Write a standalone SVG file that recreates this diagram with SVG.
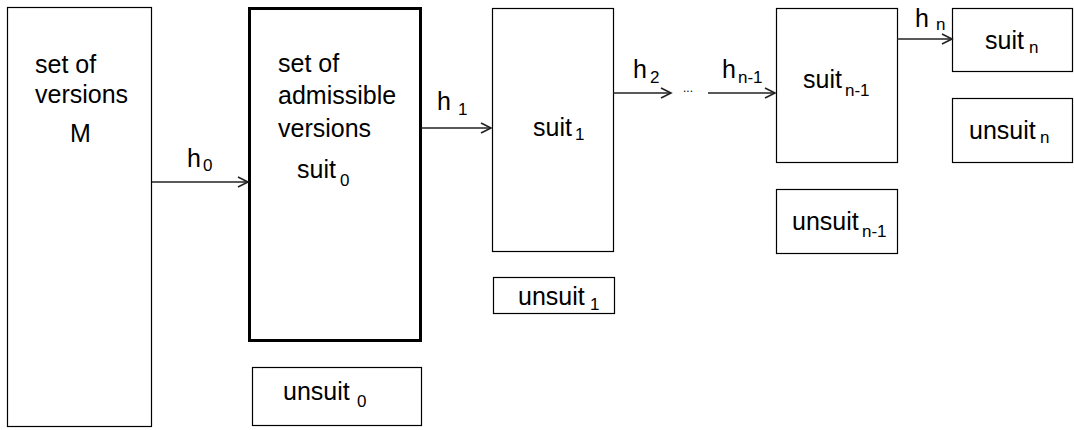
<svg xmlns="http://www.w3.org/2000/svg" width="1074" height="430" viewBox="0 0 1074 430">
<style>
.box{fill:#fff;stroke:#000;stroke-width:1.2}
.thick{fill:#fff;stroke:#000;stroke-width:3}
.t{font-family:"Liberation Sans",Arial,sans-serif;font-size:25px;fill:#000}
.s{font-family:"Liberation Sans",Arial,sans-serif;font-size:17px;fill:#000}
.c{fill:none;stroke:#222;stroke-width:1.3}
</style>
<defs>
<marker id="arr" markerUnits="userSpaceOnUse" markerWidth="14" markerHeight="14" refX="11" refY="6" orient="auto">
<path d="M1,1 L11,6 L1,11" fill="none" stroke="#222" stroke-width="1.6"/>
</marker>
</defs>
<rect width="1074" height="430" fill="#fff"/>
<g id="nodeM">
<rect class="box" x="7.5" y="7.5" width="144" height="419"/>
<text class="t" x="35" y="73">set of</text>
<text class="t" x="35" y="103">versions</text>
<text class="t" x="70" y="142">M</text>
</g>
<g id="suit0">
<rect class="thick" x="249.5" y="8.5" width="171" height="332"/>
<text class="t" x="278" y="72">set of</text>
<text class="t" x="278" y="104">admissible</text>
<text class="t" x="278" y="137">versions</text>
<text class="t" x="297" y="178">suit</text>
<text class="s" x="340" y="186">0</text>
</g>
<g id="unsuit0">
<rect class="box" x="252.5" y="367.5" width="169" height="58"/>
<text class="t" x="283" y="400">unsuit</text>
<text class="s" x="357" y="407">0</text>
</g>
<g id="suit1">
<rect class="box" x="492.5" y="8.5" width="121" height="243"/>
<text class="t" x="533" y="136">suit</text>
<text class="s" x="575" y="140">1</text>
</g>
<g id="unsuit1">
<rect class="box" x="493.5" y="277.5" width="121" height="36"/>
<text class="t" x="518" y="305">unsuit</text>
<text class="s" x="590" y="310">1</text>
</g>
<g id="suitn1">
<rect class="box" x="776.5" y="8.5" width="121" height="154"/>
<text class="t" x="803" y="88">suit</text>
<text class="s" x="845" y="96">n-1</text>
</g>
<g id="unsuitn1">
<rect class="box" x="776.5" y="189.5" width="121" height="64"/>
<text class="t" x="792" y="230">unsuit</text>
<text class="s" x="862" y="237">n-1</text>
</g>
<g id="suitn">
<rect class="box" x="952.5" y="8.5" width="120" height="63"/>
<text class="t" x="985" y="49">suit</text>
<text class="s" x="1029" y="53">n</text>
</g>
<g id="unsuitn">
<rect class="box" x="952.5" y="98.5" width="120" height="64"/>
<text class="t" x="969" y="139">unsuit</text>
<text class="s" x="1040" y="143">n</text>
</g>
<g id="connectors">
<line class="c" x1="152" y1="182" x2="248" y2="182" marker-end="url(#arr)"/>
<line class="c" x1="421" y1="128" x2="491" y2="128" marker-end="url(#arr)"/>
<line class="c" x1="613" y1="93" x2="671" y2="93" marker-end="url(#arr)"/>
<line class="c" x1="708" y1="93" x2="775" y2="93" marker-end="url(#arr)"/>
<line class="c" x1="897" y1="39" x2="952" y2="39" marker-end="url(#arr)"/>
<text class="t" x="187" y="167">h</text>
<text class="s" x="203" y="171">0</text>
<text class="t" x="437" y="110">h</text>
<text class="s" x="458" y="115">1</text>
<text class="t" x="633" y="78">h</text>
<text class="s" x="650" y="83">2</text>
<text class="s" x="683" y="92" style="font-size:12px">...</text>
<text class="t" x="722" y="78">h</text>
<text class="s" x="738" y="83">n-1</text>
<text class="t" x="915" y="27">h</text>
<text class="s" x="936" y="30">n</text>
</g>
</svg>
